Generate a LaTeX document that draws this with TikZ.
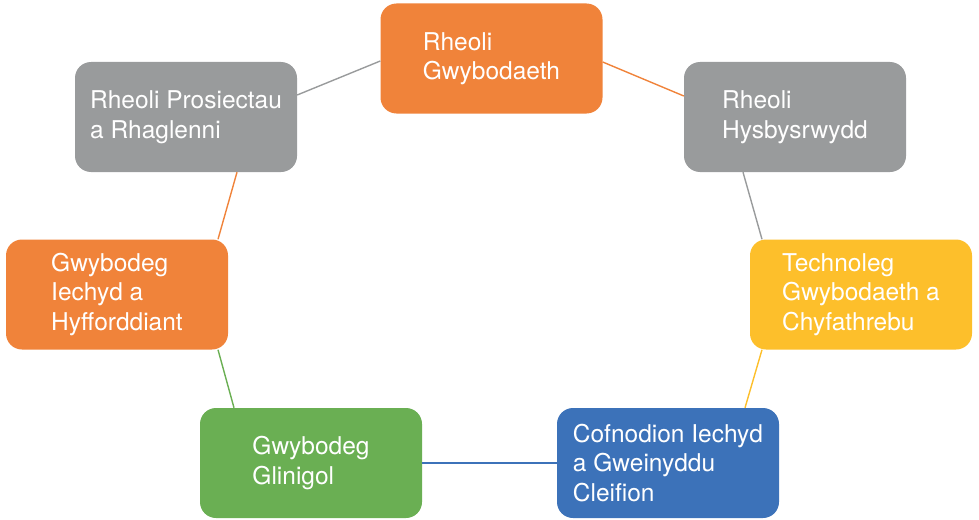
\documentclass[tikz,border=0pt]{standalone}
\usepackage{fontspec}
\newfontfamily\boxfont{TeX Gyre Heros}
\definecolor{orangeA}{HTML}{F0833A}
\definecolor{greyA}{HTML}{999B9C}
\definecolor{yellowA}{HTML}{FDBF2B}
\definecolor{greenA}{HTML}{6AAF53}
\definecolor{blueA}{HTML}{3C72B9}
\tikzset{
  area/.style={rounded corners=16pt, minimum width=222pt, minimum height=110pt,
    inner sep=0pt, align=left, text=white,
    font=\boxfont\fontsize{24.5}{29.5}\selectfont},
  link/.style={line width=1.4pt}
}
\begin{document}
\begin{tikzpicture}[x=1pt,y=-1pt]
%picture
\useasboundingbox (0,0) rectangle (979,519);
\node[area, fill=orangeA] (know) at (491.5,58.5) {Rheoli\\Gwybodaeth};
\node[area, fill=greyA] (proj) at (186,117) {Rheoli Prosiectau\\a Rhaglenni};
\node[area, fill=greyA] (info) at (795,117) {Rheoli\\Hysbysrwydd};
\node[area, fill=orangeA] (train) at (117,294.5) {Gwybodeg\\Iechyd a\\Hyfforddiant};
\node[area, fill=yellowA] (ict) at (861,294.5) {Technoleg\\Gwybodaeth a\\Chyfathrebu};
\node[area, fill=greenA] (clin) at (311,463) {Gwybodeg\\Glinigol};
\node[area, fill=blueA] (recs) at (668,463) {Cofnodion Iechyd\\a Gweinyddu\\Cleifion};
%links
\draw[link, greyA] ([yshift=22pt]proj.east) -- ([yshift=-2.5pt]know.west);
\draw[link, orangeA] ([yshift=-3.5pt]know.east) -- ([yshift=21pt]info.west);
\draw[link, greyA] ([xshift=-52pt]info.south) -- ([xshift=-99pt]ict.north);
\draw[link, yellowA] ([xshift=-99pt]ict.south) -- ([xshift=77pt]recs.north);
\draw[link, blueA] (recs.west) -- (clin.east);
\draw[link, greenA] ([xshift=-77pt]clin.north) -- ([xshift=101pt]train.south);
\draw[link, orangeA] ([xshift=101pt]train.north) -- ([xshift=51pt]proj.south);
\end{tikzpicture}
\end{document}
